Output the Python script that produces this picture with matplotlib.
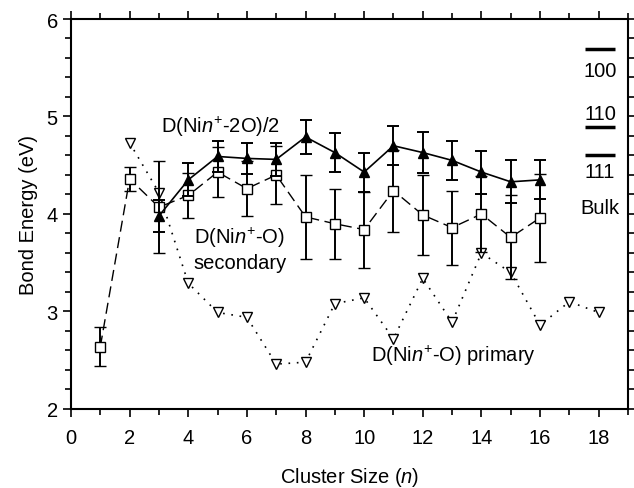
import matplotlib
matplotlib.use('Agg')
import matplotlib.pyplot as plt
import numpy as np

plt.rcParams['font.family'] = ['Liberation Sans', 'DejaVu Sans']
plt.rcParams['mathtext.fontset'] = 'custom'
plt.rcParams['mathtext.rm'] = 'Liberation Sans'
plt.rcParams['mathtext.it'] = 'Liberation Sans:italic'

# D(Ni_n+ - O) secondary (open squares, dashed)
n_sec = [1, 2, 3, 4, 5, 6, 7, 8, 9, 10, 11, 12, 13, 14, 15, 16]
e_sec = [2.64, 4.36, 4.07, 4.19, 4.43, 4.26, 4.40, 3.97, 3.90, 3.84, 4.24, 3.99, 3.86, 4.00, 3.76, 3.96]
err_sec = [0.20, 0.12, 0.47, 0.23, 0.26, 0.28, 0.30, 0.43, 0.36, 0.39, 0.42, 0.41, 0.38, 0.39, 0.43, 0.45]

# D(Ni_n+ - 2O)/2 (filled triangles, solid)
n_di = [3, 4, 5, 6, 7, 8, 9, 10, 11, 12, 13, 14, 15, 16]
e_di = [3.98, 4.35, 4.59, 4.57, 4.56, 4.79, 4.63, 4.43, 4.70, 4.63, 4.55, 4.43, 4.33, 4.35]
err_di = [0.16, 0.17, 0.16, 0.16, 0.17, 0.17, 0.20, 0.20, 0.20, 0.21, 0.20, 0.22, 0.22, 0.20]

# D(Ni_n+ - O) primary (open down triangles, dotted)
n_pri = [2, 3, 4, 5, 6, 7, 8, 9, 10, 11, 12, 13, 14, 15, 16, 17, 18]
e_pri = [4.73, 4.22, 3.29, 2.99, 2.94, 2.46, 2.48, 3.08, 3.14, 2.72, 3.34, 2.89, 3.60, 3.40, 2.86, 3.10, 2.99]

# bulk surface energies
bulk_labels = ['100', '110', '111']
bulk_energy = [5.69, 4.89, 4.60]

fs = 14.5

fig = plt.figure(figsize=(6.34, 4.89), dpi=100)
ax = fig.add_axes([0.112, 0.1616, 0.8785, 0.7975])

ax.plot(n_pri, e_pri, ls=(0, (1, 4)), lw=1.2, color='k',
        marker='v', ms=7, mfc='white', mec='k', mew=1.0, zorder=3)

ax.errorbar(n_sec, e_sec, yerr=err_sec, fmt='s', ls=(0, (8, 4)), lw=1.0,
            color='k', ms=7, mfc='white', mec='k', mew=1.0,
            ecolor='k', elinewidth=1.4, capsize=4, capthick=1.4, zorder=4)

ax.errorbar(n_di, e_di, yerr=err_di, fmt='^', ls='-', lw=1.2,
            color='k', ms=7, mfc='k', mec='k',
            ecolor='k', elinewidth=1.4, capsize=4, capthick=1.4, zorder=5)

for e in bulk_energy:
    ax.plot([17.55, 18.55], [e, e], color='k', lw=2.5, solid_capstyle='butt')
ax.text(18.05, 5.47, bulk_labels[0], ha='center', va='center', fontsize=fs)
ax.text(18.05, 5.03, bulk_labels[1], ha='center', va='center', fontsize=fs)
ax.text(18.05, 4.44, bulk_labels[2], ha='center', va='center', fontsize=fs)
ax.text(18.05, 4.07, 'Bulk', ha='center', va='center', fontsize=fs)

ax.text(5.1, 4.90, r'D(Ni$\mathit{n}^{+}$-2O)/2', ha='center', va='center', fontsize=fs)
ax.text(5.75, 3.76, r'D(Ni$\mathit{n}^{+}$-O)', ha='center', va='center', fontsize=fs)
ax.text(5.75, 3.50, 'secondary', ha='center', va='center', fontsize=fs)
ax.text(13.05, 2.55, r'D(Ni$\mathit{n}^{+}$-O) primary', ha='center', va='center', fontsize=fs)

ax.set_xlim(0, 19)
ax.set_ylim(2, 6)
ax.set_xticks(np.arange(0, 19, 2))
ax.set_xticks(np.arange(0, 20, 1), minor=True)
ax.set_yticks([2, 3, 4, 5, 6])
ax.set_yticks(np.arange(2, 6.01, 0.2), minor=True)
ax.tick_params(which='both', direction='out', top=True, right=True, labelsize=fs, width=1.2)
ax.tick_params(which='major', length=6)
ax.tick_params(which='minor', length=4)
ax.tick_params(axis='x', pad=8)
for s in ax.spines.values():
    s.set_linewidth(1.5)

ax.set_xlabel(r'Cluster Size ($\mathit{n}$)', fontsize=fs, labelpad=13)
ax.set_ylabel('Bond Energy (eV)', fontsize=fs, labelpad=6)

fig.savefig('out.png', dpi=100)
